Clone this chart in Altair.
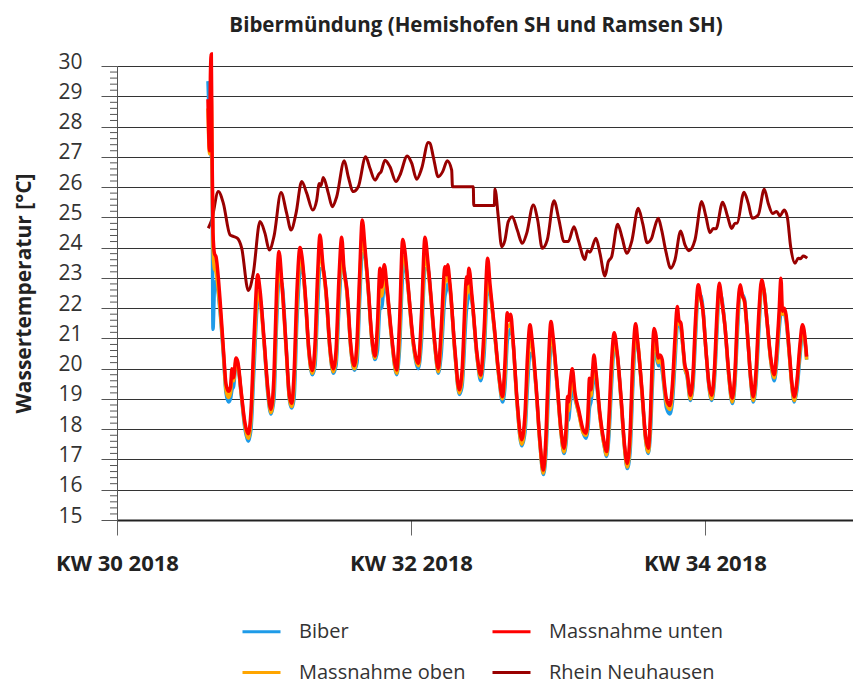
import altair as alt
import pandas as pd

FONT = "Open Sans"
TITLE = "Bibermündung (Hemishofen SH und Ramsen SH)"
Y_TITLE = "Wassertemperatur [°C]"
SERIES = ["Biber", "Massnahme unten", "Massnahme oben", "Rhein Neuhausen"]
COLORS = ["#1E9BE8", "#FF0000", "#FFA500", "#990000"]
WEEK_TICKS = [0, 14, 28]          # days since Monday of KW 30 2018
Y_TICKS = list(range(15, 31))
MINOR_TICKS = [round(v + f, 1) for v in range(15, 30) for f in (0.2, 0.4, 0.6, 0.8)]

# time in days since Monday 23.07.2018 (start of KW 30)
T_WATER = [
    4.333, 4.405, 4.452, 4.490, 4.524, 4.571, 4.643, 4.714, 4.905, 5.071,
    5.190, 5.310, 5.405, 5.476, 5.548, 5.667, 5.762, 5.905, 6.095, 6.252,
    6.381, 6.524, 6.700, 6.810, 7.000, 7.190, 7.333, 7.476, 7.595, 7.714,
    7.857, 8.048, 8.214, 8.319, 8.429, 8.571, 8.714, 8.810, 8.952, 9.143,
    9.300, 9.429, 9.548, 9.667, 9.810, 9.952, 10.143, 10.300, 10.429, 10.571,
    10.700, 10.810, 10.952, 11.143, 11.300, 11.429, 11.548, 11.681, 11.810, 11.952,
    12.143, 12.286, 12.405, 12.524, 12.595, 12.729, 12.857, 13.048, 13.319, 13.452,
    13.605, 13.714, 13.857, 14.095, 14.348, 14.500, 14.667, 14.810, 14.952, 15.143,
    15.300, 15.429, 15.619, 15.690, 15.748, 15.857, 16.095, 16.300, 16.429, 16.652,
    16.690, 16.762, 16.905, 17.143, 17.319, 17.476, 17.652, 17.762, 17.952, 18.190,
    18.357, 18.476, 18.586, 18.667, 18.748, 18.857, 19.048, 19.271, 19.429, 19.548,
    19.667, 19.762, 19.952, 20.143, 20.300, 20.429, 20.548, 20.667, 20.762, 20.952,
    21.143, 21.286, 21.405, 21.452, 21.500, 21.595, 21.681, 21.810, 22.000, 22.190,
    22.333, 22.429, 22.500, 22.571, 22.643, 22.714, 22.810, 23.000, 23.190, 23.319,
    23.429, 23.548, 23.681, 23.810, 24.000, 24.167, 24.300, 24.429, 24.571, 24.700,
    24.810, 25.000, 25.167, 25.300, 25.405, 25.500, 25.571, 25.667, 25.776, 25.857,
    25.967, 26.048, 26.167, 26.333, 26.452, 26.571, 26.681, 26.762, 26.857, 26.952,
    27.048, 27.143, 27.310, 27.429, 27.548, 27.681, 27.810, 27.905, 28.048, 28.190,
    28.319, 28.452, 28.571, 28.681, 28.810, 28.952, 29.143, 29.300, 29.429, 29.548,
    29.681, 29.786, 29.881, 30.048, 30.190, 30.300, 30.429, 30.571, 30.700, 30.810,
    30.952, 31.143, 31.300, 31.405, 31.524, 31.619, 31.690, 31.786, 31.857, 32.024,
    32.143, 32.252, 32.381, 32.524, 32.643, 32.714, 32.843]

MASSNAHME_UNTEN = [
    28.9, 27.2, 29.8, 30.4, 27.5, 24.5, 23.8, 23.7, 22.3, 20.6,
    19.5, 19.25, 19.4, 20.0, 19.7, 20.35, 20.2, 19.3, 18.2, 17.85,
    18.6, 21.0, 23.1, 22.6, 21.0, 19.3, 18.66, 19.8, 22.5, 23.87,
    22.8, 20.8, 19.1, 18.86, 19.8, 22.6, 24.0, 23.7, 22.6, 20.6,
    19.94, 20.8, 23.0, 24.42, 23.4, 22.6, 20.7, 20.0, 20.6, 23.0,
    24.34, 23.3, 22.6, 20.7, 20.1, 20.9, 23.0, 24.91, 24.0, 22.8,
    21.0, 20.42, 21.5, 23.32, 22.7, 23.43, 22.7, 21.3, 19.96, 21.5,
    24.27, 23.87, 22.8, 21.0, 20.18, 21.8, 24.34, 23.5, 22.4, 20.8,
    20.0, 21.2, 23.37, 23.1, 23.43, 22.8, 20.6, 19.3, 19.9, 23.04,
    22.8, 23.32, 22.4, 20.5, 19.79, 21.2, 23.65, 22.8, 21.5, 19.8,
    19.08, 20.2, 21.85, 21.6, 21.8, 21.0, 19.0, 17.65, 18.5, 20.4,
    21.45, 21.0, 19.5, 17.6, 16.65, 17.8, 20.2, 21.56, 21.1, 19.6,
    18.0, 17.37, 18.3, 19.08, 18.9, 19.6, 20.0, 19.2, 18.6, 18.0,
    17.87, 18.5, 19.68, 19.3, 19.9, 20.45, 19.9, 18.5, 17.6, 17.26,
    18.4, 20.2, 21.19, 20.6, 19.1, 17.5, 16.87, 17.8, 20.4, 21.48,
    20.8, 19.3, 17.8, 17.37, 18.5, 20.5, 21.33, 21.1, 20.35, 20.45,
    20.29, 19.65, 19.0, 18.78, 19.5, 21.0, 22.05, 21.6, 21.5, 20.8,
    20.1, 19.9, 19.12, 19.8, 21.6, 22.77, 22.3, 21.9, 20.6, 19.5,
    19.12, 20.0, 21.8, 22.82, 22.2, 21.4, 19.8, 19.02, 19.9, 21.8,
    22.77, 22.4, 22.25, 20.9, 19.6, 19.07, 19.9, 21.9, 22.93, 22.6,
    21.6, 20.3, 19.8, 20.5, 21.8, 22.99, 21.9, 22.0, 21.8, 20.5,
    19.5, 19.07, 19.6, 20.8, 21.45, 21.3, 20.4]

MASSNAHME_OBEN = [
    28.6, 27.1, 28.5, 29.0, 27.2, 24.0, 23.3, 23.2, 22.0, 20.5,
    19.3, 19.05, 19.2, 19.7, 19.6, 20.25, 20.1, 19.25, 18.1, 17.7,
    18.3, 20.5, 22.55, 22.3, 20.9, 19.2, 18.55, 19.4, 21.9, 23.3,
    22.7, 20.7, 19.0, 18.75, 19.4, 22.1, 23.6, 23.5, 22.5, 20.5,
    19.85, 20.4, 22.5, 24.0, 23.3, 22.5, 20.6, 19.9, 20.3, 22.5,
    23.9, 23.2, 22.5, 20.6, 20.0, 20.5, 22.6, 24.4, 23.8, 22.7,
    20.9, 20.35, 21.1, 22.8, 22.4, 23.0, 22.6, 21.2, 19.85, 21.0,
    23.7, 23.6, 22.7, 20.9, 20.1, 21.3, 23.8, 23.3, 22.3, 20.7,
    19.9, 20.8, 22.9, 22.9, 23.1, 22.7, 20.5, 19.2, 19.6, 22.5,
    22.5, 22.8, 22.3, 20.4, 19.7, 20.8, 23.1, 22.6, 21.4, 19.7,
    19.0, 19.8, 21.4, 21.4, 21.5, 20.9, 18.9, 17.5, 18.2, 19.9,
    21.0, 20.8, 19.4, 17.5, 16.55, 17.5, 19.7, 21.1, 20.9, 19.5,
    17.9, 17.25, 18.0, 18.7, 18.6, 19.3, 19.7, 19.1, 18.5, 17.9,
    17.8, 18.3, 19.3, 19.1, 19.6, 20.1, 19.8, 18.4, 17.5, 17.15,
    18.1, 19.8, 20.9, 20.5, 19.0, 17.4, 16.75, 17.5, 19.9, 21.2,
    20.8, 19.2, 17.7, 17.25, 18.2, 20.0, 20.9, 20.8, 20.2, 20.3,
    20.1, 19.5, 18.85, 18.65, 19.2, 20.6, 21.7, 21.5, 21.4, 20.7,
    20.0, 19.8, 19.0, 19.6, 21.3, 22.6, 22.3, 21.9, 20.6, 19.45,
    19.0, 19.8, 21.5, 22.7, 22.2, 21.4, 19.7, 18.9, 19.7, 21.5,
    22.65, 22.4, 22.2, 20.9, 19.55, 18.95, 19.7, 21.6, 22.8, 22.6,
    21.6, 20.2, 19.7, 20.3, 21.5, 22.3, 21.8, 21.9, 21.7, 20.4,
    19.4, 18.95, 19.5, 20.6, 21.3, 21.2, 20.3]

BIBER = [
    29.5, 28.0, 27.3, 27.0, 27.0, 21.3, 22.7, 22.9, 21.9, 20.4,
    19.2, 18.9, 19.0, 19.3, 19.4, 20.1, 20.05, 19.2, 18.0, 17.6,
    18.0, 20.0, 22.2, 22.3, 20.9, 19.1, 18.5, 19.0, 21.4, 22.9,
    22.8, 20.8, 18.95, 18.7, 19.0, 21.6, 23.2, 23.4, 22.5, 20.5,
    19.8, 20.1, 21.9, 23.3, 23.3, 22.5, 20.6, 19.85, 20.1, 22.0,
    23.4, 23.3, 22.5, 20.6, 19.95, 20.2, 22.1, 23.8, 23.7, 22.7,
    20.9, 20.3, 20.6, 22.0, 22.0, 22.7, 22.5, 21.2, 19.8, 20.6,
    23.1, 23.5, 22.7, 20.9, 20.0, 20.9, 23.3, 23.3, 22.3, 20.7,
    19.85, 20.4, 22.4, 22.6, 22.8, 22.6, 20.5, 19.15, 19.4, 22.0,
    22.2, 22.5, 22.2, 20.4, 19.6, 20.4, 22.6, 22.5, 21.4, 19.7,
    18.9, 19.4, 20.9, 21.2, 21.3, 20.9, 18.9, 17.45, 17.9, 19.4,
    20.5, 20.5, 19.4, 17.5, 16.5, 17.2, 19.2, 20.7, 20.7, 19.5,
    17.9, 17.2, 17.7, 18.3, 18.3, 18.9, 19.3, 19.0, 18.5, 17.9,
    17.7, 18.0, 18.7, 18.9, 19.3, 19.7, 19.6, 18.4, 17.5, 17.1,
    17.8, 19.4, 20.7, 20.5, 19.0, 17.4, 16.7, 17.2, 19.5, 21.0,
    20.7, 19.2, 17.7, 17.2, 17.9, 19.5, 20.4, 20.5, 20.1, 20.15,
    19.9, 19.4, 18.7, 18.5, 18.9, 20.2, 21.4, 21.5, 21.3, 20.7,
    20.0, 19.75, 18.95, 19.4, 21.0, 22.5, 22.4, 22.0, 20.6, 19.4,
    18.95, 19.6, 21.2, 22.55, 22.3, 21.4, 19.7, 18.85, 19.5, 21.2,
    22.55, 22.45, 22.3, 20.9, 19.5, 18.9, 19.5, 21.3, 22.7, 22.6,
    21.6, 20.2, 19.6, 20.1, 21.2, 21.8, 21.8, 21.8, 21.6, 20.4,
    19.4, 18.9, 19.3, 20.4, 21.15, 21.1, 20.3]

T_RHEIN = [
    4.348, 4.510, 4.824, 5.062, 5.381, 5.538, 5.729, 5.938, 6.252, 6.490,
    6.810, 7.048, 7.252, 7.476, 7.810, 8.081, 8.286, 8.524, 8.795, 9.033,
    9.319, 9.510, 9.633, 9.714, 9.824, 10.062, 10.252, 10.462, 10.824, 11.014,
    11.252, 11.490, 11.843, 12.048, 12.286, 12.490, 12.571, 12.762, 13.000, 13.286,
    13.476, 13.824, 14.033, 14.271, 14.510, 14.824, 14.905, 15.062, 15.300, 15.510,
    15.729, 15.938, 15.976, 16.967, 16.990, 17.967, 18.000, 18.157, 18.319, 18.476,
    18.633, 18.824, 19.062, 19.300, 19.510, 19.824, 20.033, 20.252, 20.490, 20.810,
    21.048, 21.286, 21.490, 21.762, 21.967, 22.286, 22.395, 22.524, 22.810, 23.000,
    23.238, 23.395, 23.557, 23.843, 24.062, 24.271, 24.510, 24.824, 25.033, 25.252,
    25.462, 25.571, 25.776, 25.938, 26.143, 26.367, 26.571, 26.843, 27.048, 27.238,
    27.524, 27.843, 28.048, 28.238, 28.395, 28.524, 28.843, 29.081, 29.271, 29.429,
    29.538, 29.857, 30.062, 30.252, 30.538, 30.824, 31.014, 31.224, 31.414, 31.571,
    31.776, 31.919, 32.081, 32.286, 32.443, 32.548, 32.681, 32.871]

RHEIN_NEUHAUSEN = [
    24.64, 24.91, 25.85, 25.47, 24.42, 24.37, 24.31, 23.98, 22.58, 23.15,
    24.86, 24.47, 23.92, 24.37, 25.82, 25.13, 24.58, 25.13, 26.18, 25.8,
    25.24, 25.57, 26.12, 26.05, 26.32, 25.8, 25.35, 25.68, 26.87, 26.34,
    25.85, 26.01, 27.0, 26.62, 26.23, 26.45, 26.5, 26.89, 26.67, 26.18,
    26.4, 27.03, 26.79, 26.26, 26.62, 27.47, 27.45, 27.0, 26.34, 26.51,
    26.87, 26.56, 26.01, 26.01, 25.39, 25.39, 25.94, 25.02, 24.03, 24.25,
    24.86, 25.02, 24.58, 24.14, 24.47, 25.41, 24.91, 23.98, 24.25, 25.55,
    24.91, 24.2, 24.2, 24.69, 24.25, 23.61, 23.9, 23.85, 24.31, 23.81,
    23.06, 23.53, 23.7, 24.77, 24.31, 23.81, 24.2, 25.3, 24.8, 24.16,
    24.31, 24.58, 24.97, 24.58, 23.86, 23.32, 23.59, 24.55, 24.09, 23.9,
    24.25, 25.52, 25.02, 24.49, 24.63, 24.62, 25.5, 25.02, 24.63, 24.8,
    24.81, 25.83, 25.46, 24.97, 25.08, 25.93, 25.46, 25.13, 25.19, 25.05,
    25.24, 25.02, 24.03, 23.48, 23.65, 23.63, 23.72, 23.65]


def frame(times, values, name):
    return pd.DataFrame({"Tag": times, "Temp": values, "Serie": name})


df_biber = frame(T_WATER, BIBER, "Biber")
df_oben = frame(T_WATER, MASSNAHME_OBEN, "Massnahme oben")
df_unten = frame(T_WATER, MASSNAHME_UNTEN, "Massnahme unten")
df_rhein = frame(T_RHEIN, RHEIN_NEUHAUSEN, "Rhein Neuhausen")
df_minor = pd.DataFrame({"Temp": MINOR_TICKS})

x_enc = alt.X(
    "Tag:Q",
    scale=alt.Scale(domain=[0, 35.05], nice=False, zero=False),
    axis=alt.Axis(
        values=WEEK_TICKS,
        labelExpr="'KW ' + (30 + datum.value / 7) + ' 2018'",
        grid=False, title=None, labelFlush=False,
        domainColor="#222222", domainWidth=2,
        tickColor="#666666", tickSize=15, tickWidth=1,
        labelFont=FONT, labelFontSize=22, labelFontWeight="bold",
        labelColor="#222222", labelPadding=18,
    ),
)
y_enc = alt.Y(
    "Temp:Q",
    scale=alt.Scale(domain=[15, 30], nice=False, zero=False),
    axis=alt.Axis(
        values=Y_TICKS, grid=True, gridColor="#333333", gridWidth=1,
        domainColor="#555555", tickColor="#555555", tickSize=16,
        labelPadding=19, labelFont=FONT, labelFontSize=21, labelColor="#333333",
        labelOffset=-4,
        title=Y_TITLE, titleFont=FONT, titleFontSize=21, titleFontWeight="bold",
        titleColor="#222222", titleX=-93, titleY=227, titleAlign="center",
        titleBaseline="middle", titleAngle=270,
    ),
)
color_enc = alt.Color(
    "Serie:N",
    scale=alt.Scale(domain=SERIES, range=COLORS),
    legend=alt.Legend(
        title=None, orient="none", legendX=124, legendY=545, columns=2,
        direction="horizontal",
        symbolType="stroke", symbolSize=1444, symbolStrokeWidth=3,
        labelFont=FONT, labelFontSize=20, labelColor="#333333", labelLimit=300,
        labelOffset=17, columnPadding=20, rowPadding=10, padding=0,
    ),
)

minor = alt.Chart(df_minor).mark_rule(color="#555555", strokeWidth=1).encode(
    y=y_enc, x=alt.value(-7), x2=alt.value(0)
)


def line(df, width):
    return alt.Chart(df).mark_line(strokeWidth=width, interpolate="monotone").encode(
        x=x_enc, y=y_enc, color=color_enc
    )


chart = alt.layer(
    minor,
    line(df_rhein, 3),
    line(df_biber, 3.5),
    line(df_oben, 3.5),
    line(df_unten, 3.5),
).properties(
    width=736, height=454,
    autosize=alt.AutoSizeParams(type="none"),
    padding={"left": 109, "top": 58, "right": 0, "bottom": 163},
    title=alt.TitleParams(TITLE, font=FONT, fontSize=20.5, fontWeight="bold",
                          color="#222222", anchor="middle", frame="group",
                          offset=10, dx=-9),
).configure_view(stroke=None)

chart.save("out.html", embed_options={"renderer": "svg", "actions": False})
